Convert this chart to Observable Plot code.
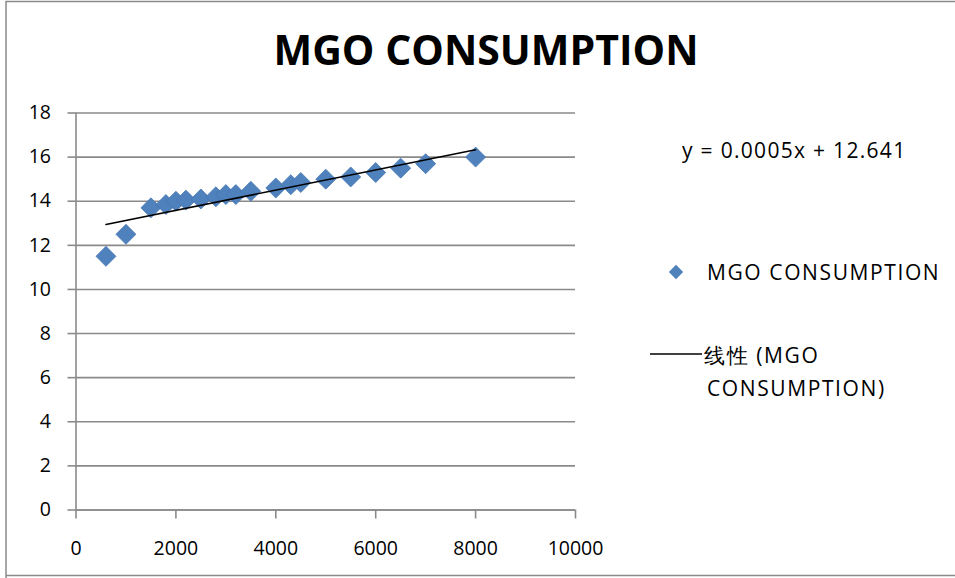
<!DOCTYPE html>
<html>
<head>
<meta charset="utf-8">
<script src="https://cdn.jsdelivr.net/npm/d3@7"></script>
<script src="https://cdn.jsdelivr.net/npm/@observablehq/plot@0.6"></script>
<style>
  html, body { margin: 0; padding: 0; background: #fff; }
  #chart { width: 955px; height: 578px; }
</style>
</head>
<body>
<div id="chart"></div>
<script>
// Data
const fuelTons = [600, 1000, 1500, 1800, 2000, 2200, 2500, 2800, 3000, 3200, 3500, 4000, 4300, 4500, 5000, 5500, 6000, 6500, 7000, 8000];
const consumption = [11.5, 12.5, 13.7, 13.85, 14.0, 14.05, 14.1, 14.2, 14.3, 14.3, 14.45, 14.6, 14.75, 14.85, 15.0, 15.1, 15.3, 15.5, 15.7, 16.0];
const xTicks = [0, 2000, 4000, 6000, 8000, 10000];
const yTicks = [0, 2, 4, 6, 8, 10, 12, 14, 16, 18];
const titleText = "MGO CONSUMPTION";
const seriesName = "MGO CONSUMPTION";
const trendLabel1 = "线性 (MGO";
const trendLabel2 = "CONSUMPTION)";
const equationText = "y = 0.0005x + 12.641";

const data = fuelTons.map((x, i) => ({x, y: consumption[i]}));

const gray = "#8a8a8a";
const blue = "#4F81BD";
const font = "'Open Sans', 'DejaVu Sans', sans-serif";

const W = 955, H = 578;
const mL = 75.5, mR = 380, mT = 112.5, mB = 68.5;

const svg = Plot.plot({
  width: W,
  height: H,
  marginLeft: mL,
  marginRight: mR,
  marginTop: mT,
  marginBottom: mB,
  style: {fontFamily: font, fontSize: "19.5px", color: "#000", background: "#fff", overflow: "visible"},
  x: {domain: [0, 10000], ticks: xTicks, tickFormat: "d"},
  y: {domain: [0, 18], ticks: yTicks, tickFormat: "d"},
  marks: [
    Plot.gridY(yTicks, {stroke: gray, strokeOpacity: 1, strokeWidth: 1.6}),
    Plot.axisY(yTicks, {tickSize: 8, tickPadding: 17, stroke: gray, strokeWidth: 1.6, fill: "#000", fontSize: 19.5, label: null, tickFormat: "d"}),
    Plot.axisX(xTicks, {tickSize: 9, tickPadding: 22, stroke: gray, strokeWidth: 1.6, fill: "#000", fontSize: 19.5, label: null, tickFormat: "d"}),
    Plot.ruleX([0], {stroke: gray, strokeWidth: 1.6}),
    Plot.ruleY([0], {stroke: gray, strokeWidth: 1.6}),
    Plot.dot(data, {x: "x", y: "y", symbol: "diamond2", r: 9, fill: blue, stroke: "#4677b3", strokeWidth: 0.8}),
    Plot.linearRegressionY(data, {x: "x", y: "y", stroke: "#000", strokeWidth: 1.6, ci: 0})
  ]
});

const s = d3.select(svg);
// outer chart border
s.append("path")
  .attr("d", `M6,${H} V1.5 H${W}`)
  .attr("fill", "none").attr("stroke", gray).attr("stroke-width", 1.5);
s.append("line")
  .attr("x1", 6).attr("x2", W).attr("y1", 575.5).attr("y2", 575.5)
  .attr("stroke", gray).attr("stroke-width", 1.5);

function addText(x, y, str, size, anchor, weight, spacing) {
  s.append("text")
    .attr("x", x).attr("y", y).attr("dy", "0.35em")
    .attr("text-anchor", anchor)
    .style("font-family", font)
    .style("font-size", size + "px")
    .style("font-weight", weight || "normal")
    .style("letter-spacing", (spacing || 0) + "px")
    .attr("fill", "#000")
    .text(str);
}

// title
addText(486, 51, titleText, 41, "middle", "bold");
// trendline equation
addText(682, 151, equationText, 21, "start", "normal", 1.3);

// legend: series
s.append("path")
  .attr("d", d3.symbol(d3.symbolDiamond2, 130)())
  .attr("transform", "translate(676,272)")
  .attr("fill", blue);
addText(707, 273, seriesName, 21, "start", "normal", 1.6);

// legend: trendline
s.append("line")
  .attr("x1", 650).attr("x2", 702).attr("y1", 354).attr("y2", 354)
  .attr("stroke", "#000").attr("stroke-width", 1.6);
addText(704, 356, trendLabel1, 21, "start", "normal", 1.6);
addText(707, 389, trendLabel2, 21, "start", "normal", 1.6);

document.getElementById("chart").appendChild(svg);
</script>
</body>
</html>
